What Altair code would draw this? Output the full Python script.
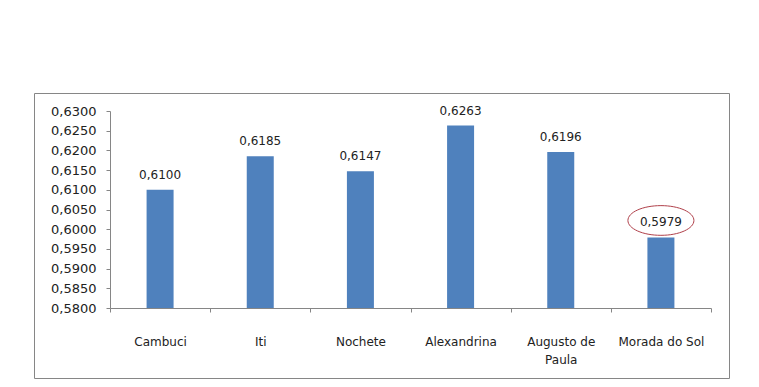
import altair as alt
import pandas as pd

categories = ["Cambuci", "Iti", "Nochete", "Alexandrina", "Augusto de Paula", "Morada do Sol"]
values = [0.6100, 0.6185, 0.6147, 0.6263, 0.6196, 0.5979]
highlight = "Morada do Sol"
y_min = 0.58
y_max = 0.63
y_ticks = [0.58, 0.585, 0.59, 0.595, 0.60, 0.605, 0.61, 0.615, 0.62, 0.625, 0.63]

df = pd.DataFrame({"cat": categories, "val": values, "base": [y_min] * len(values)})
FONT = "DejaVu Sans"

x_enc = alt.X(
    "cat:N", sort=categories, title=None,
    scale=alt.Scale(paddingInner=0, paddingOuter=0),
    axis=alt.Axis(
        labelAngle=0, tickBand="extent", tickSize=4, labelPadding=24,
        domainColor="#868686", tickColor="#868686", labelColor="#222222",
        labelFont=FONT, labelFontSize=12, labelLineHeight=18, labelOverlap=False,
        labelExpr="datum.label == 'Augusto de Paula' ? ['Augusto de', 'Paula'] : datum.label",
    ),
)
y_enc = alt.Y(
    "val:Q", title=None,
    scale=alt.Scale(domain=[y_min, y_max], nice=False, zero=False),
    axis=alt.Axis(
        values=y_ticks, grid=False, tickSize=4, labelPadding=10, labelOverlap=False,
        domainColor="#868686", tickColor="#868686", labelColor="#222222",
        labelFont=FONT, labelFontSize=13,
        labelExpr="replace(format(datum.value, '.4f'), '.', ',')",
    ),
)

base = alt.Chart(df).encode(x=x_enc, y=y_enc)

bars = base.mark_bar(width=27, color="#4F81BD").encode(y2="base:Q")

labels = base.transform_calculate(
    lbl="replace(format(datum.val, '.4f'), '.', ',')"
).mark_text(font=FONT, fontSize=12, color="#222222", baseline="middle", dy=-15).encode(
    text="lbl:N"
)

ellipse = base.transform_filter(alt.datum.cat == highlight).mark_point(
    shape="M -1 0 A 1 0.45 0 1 1 1 0 A 1 0.45 0 1 1 -1 0 Z",
    size=4356, filled=False, stroke="#B0404A", strokeWidth=1, opacity=1, yOffset=-17,
)

frame = alt.Chart(pd.DataFrame({"k": [0]})).mark_rect(
    fill=None, stroke="#868686", strokeWidth=1
).encode(
    x=alt.value(-75.5), x2=alt.value(619.5), y=alt.value(-17.5), y2=alt.value(267.5)
)

chart = alt.layer(bars, labels, ellipse, frame).properties(
    width=601, height=197,
    autosize=alt.AutoSizeParams(type="none"),
    padding={"left": 102, "top": 103, "right": 40, "bottom": 71},
    view=alt.ViewBackground(stroke=None, strokeWidth=0),
).configure_view(strokeWidth=0, stroke=None).configure(background="white")

chart.save("out.html", embed_options={"renderer": "svg", "actions": False})
